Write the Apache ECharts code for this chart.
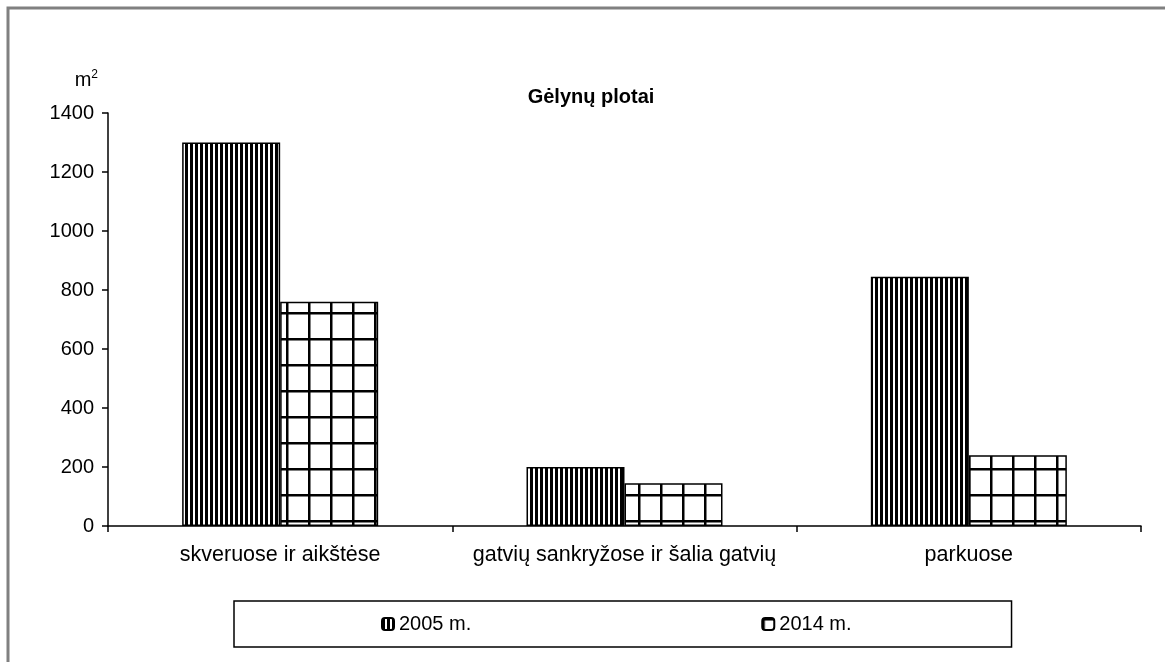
<!DOCTYPE html>
<html>
<head>
<meta charset="utf-8">
<script src="https://cdn.jsdelivr.net/npm/echarts@6/dist/echarts.min.js"></script>
<style>
  html, body { margin: 0; padding: 0; background: #fff; }
  #chart { width: 1165px; height: 662px; }
</style>
</head>
<body>
<div id="chart"></div>
<script>
var categories = ['skveruose ir aikštėse', 'gatvių sankryžose ir šalia gatvių', 'parkuose'];
var seriesNames = ['2005 m.', '2014 m.'];
var values2005 = [1300, 200, 845];
var values2014 = [760, 145, 240];
var yTicks = { min: 0, max: 1400, interval: 200 };

// vertical stripes fill (2005)
function stripePattern() {
    var c = document.createElement('canvas');
    c.width = 5; c.height = 4;
    var ctx = c.getContext('2d');
    ctx.fillStyle = '#fff';
    ctx.fillRect(0, 0, 5, 4);
    ctx.fillStyle = '#000';
    ctx.fillRect(0, 0, 3, 4);
    return c;
}
// square grid fill (2014)
function gridPattern() {
    var c = document.createElement('canvas');
    c.width = 22; c.height = 26;
    var ctx = c.getContext('2d');
    ctx.fillStyle = '#fff';
    ctx.fillRect(0, 0, 22, 26);
    ctx.fillStyle = '#000';
    ctx.fillRect(0, 0, 2.5, 26);
    ctx.fillRect(0, 0, 22, 2.5);
    return c;
}

var chart = echarts.init(document.getElementById('chart'));
var font = '"Liberation Sans", Arial, sans-serif';

var option = {
    animation: false,
    backgroundColor: '#fff',
    textStyle: { fontFamily: font, color: '#000' },
    title: {
        text: 'Gėlynų plotai',
        left: 586,
        top: 82,
        textAlign: 'center',
        textStyle: { fontFamily: font, fontSize: 20, fontWeight: 'bold', color: '#000' }
    },
    graphic: [{
        type: 'rect',
        shape: { x: 8, y: 8, width: 1400, height: 900 },
        style: { fill: 'none', stroke: '#808080', lineWidth: 3 },
        silent: true
    }],
    legend: {
        data: seriesNames,
        left: 234,
        top: 601,
        orient: 'horizontal',
        itemWidth: 12,
        itemHeight: 12,
        itemGap: 290,
        borderColor: '#000',
        borderWidth: 1.5,
        padding: [13, 160, 13, 147],
        textStyle: { fontFamily: font, fontSize: 20, color: '#000' }
    },
    grid: { left: 108, right: 24, top: 113, bottom: 136, containLabel: false },
    xAxis: {
        type: 'category',
        data: categories,
        axisLine: { lineStyle: { color: '#000', width: 1.5 } },
        axisTick: { show: true, alignWithLabel: false, length: 6, lineStyle: { color: '#000', width: 1.5 } },
        axisLabel: { interval: 0, fontFamily: font, fontSize: 21.5, color: '#000', margin: 18 },
        splitLine: { show: false }
    },
    yAxis: {
        type: 'value',
        min: yTicks.min,
        max: yTicks.max,
        interval: yTicks.interval,
        name: 'm{sup|2}',
        nameLocation: 'end',
        nameGap: 22,
        nameTextStyle: {
            fontFamily: font, fontSize: 20, color: '#000', align: 'right', padding: [0, 10, 0, 0],
            rich: { sup: { fontSize: 12, verticalAlign: 'top', padding: [0, 0, 10, 0] } }
        },
        axisLine: { show: true, lineStyle: { color: '#000', width: 1.5 } },
        axisTick: { show: true, length: 6, lineStyle: { color: '#000', width: 1.5 } },
        axisLabel: {
            fontFamily: font, fontSize: 20, color: '#000', margin: 14,
            formatter: function (v) { return String(v); }
        },
        splitLine: { show: false }
    },
    series: [{
        name: seriesNames[0],
        type: 'bar',
        data: values2005,
        barWidth: 98,
        barGap: '0%',
        itemStyle: { color: { image: stripePattern(), repeat: 'repeat' }, borderColor: '#000', borderWidth: 1.5 }
    }, {
        name: seriesNames[1],
        type: 'bar',
        data: values2014,
        barWidth: 98,
        barGap: '0%',
        itemStyle: { color: { image: gridPattern(), repeat: 'repeat' }, borderColor: '#000', borderWidth: 1.5 }
    }]
};

chart.setOption(option);
</script>
</body>
</html>
